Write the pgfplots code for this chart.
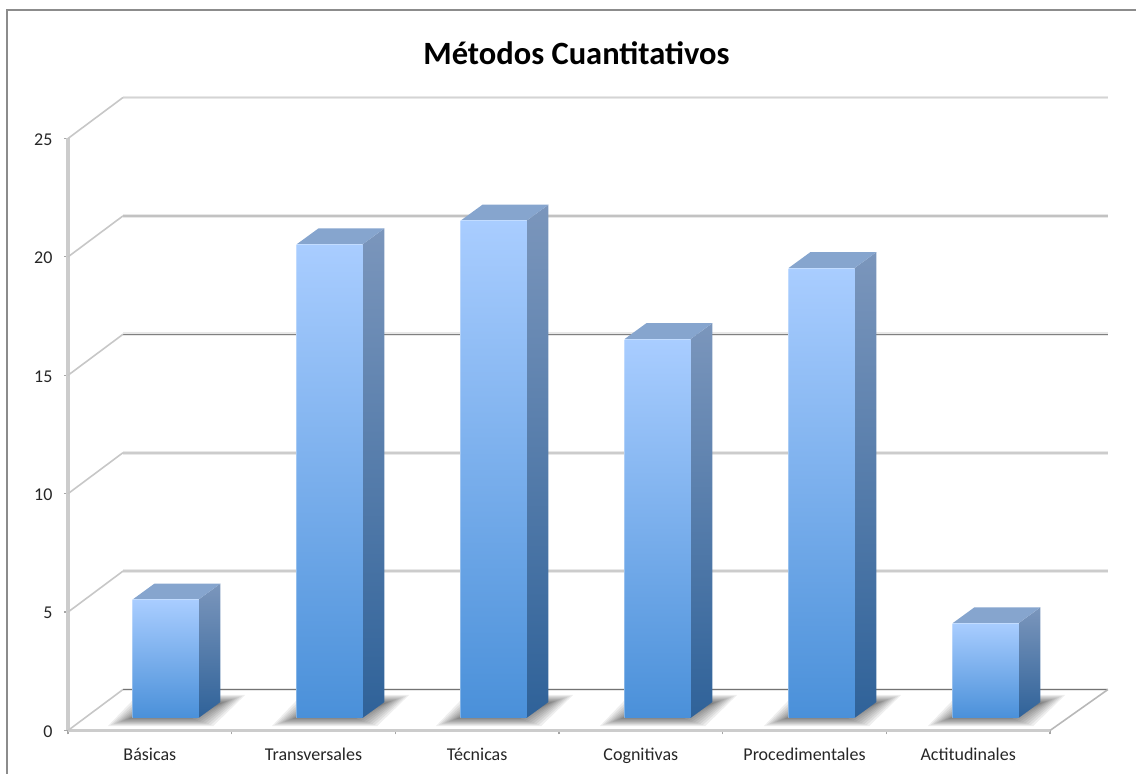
\documentclass[border=0pt]{standalone}
\usepackage{pgfplots}
\pgfplotsset{compat=1.18}
\usepackage{fontspec}
\setmainfont{Carlito}
\definecolor{frontTop}{HTML}{A9CDFF}
\definecolor{frontBot}{HTML}{4A90D9}
\definecolor{sideTop}{HTML}{7B96BC}
\definecolor{sideBot}{HTML}{2F6299}
\definecolor{capFace}{HTML}{86A5CE}

% Depth of a bar, in category and value units
\newcommand{\depthx}{0.134}
\newcommand{\depthy}{0.676}

% One layer of the soft floor shadow; #2 grows or shrinks it, in picture points
\newcommand{\shadowlayer}[2]{%
  \pgfmathsetmacro{\xa}{#1+(-46-#2*1.3)/164}
  \pgfmathsetmacro{\xb}{#1+(-16-#2*1.3)/164}
  \pgfmathsetmacro{\xc}{#1+(68+#2*1.3)/164}
  \pgfmathsetmacro{\xd}{#1+(36+#2*1.3)/164}
  \pgfmathsetmacro{\ya}{(-4-#2*0.45)/23.68}
  \pgfmathsetmacro{\yb}{(19+#2*0.45)/23.68}
  \addplot[fill=black,fill opacity=0.068,draw=none]
    coordinates {(\xa,\ya) (\xb,\yb) (\xc,\yb) (\xd,\ya)} --cycle;
}

% One bar: category position #1, value #2
\newcommand{\prismbar}[2]{%
  \shadowlayer{#1}{9}\shadowlayer{#1}{7}\shadowlayer{#1}{5}\shadowlayer{#1}{3}%
  \shadowlayer{#1}{1}\shadowlayer{#1}{-1}\shadowlayer{#1}{-3}\shadowlayer{#1}{-5}%
  \shadowlayer{#1}{-7}\shadowlayer{#1}{-9}\shadowlayer{#1}{-11}\shadowlayer{#1}{-13}%
  \pgfmathsetmacro{\xl}{#1-33/164}
  \pgfmathsetmacro{\xr}{#1+33/164}
  \pgfmathsetmacro{\xlb}{\xl+\depthx}
  \pgfmathsetmacro{\xrb}{\xr+\depthx}
  \pgfmathsetmacro{\yb}{\depthy}
  \pgfmathsetmacro{\yt}{#2+\depthy}
  \addplot[draw=none,top color=sideTop,bottom color=sideBot]
    coordinates {(\xr,0) (\xrb,\yb) (\xrb,\yt) (\xr,#2)} --cycle;
  \addplot[draw=none,fill=capFace]
    coordinates {(\xl,#2) (\xlb,\yt) (\xrb,\yt) (\xr,#2)} --cycle;
  \addplot[ybar,bar width=66pt,bar shift=0pt,draw=none,
           top color=frontTop,bottom color=frontBot]
    coordinates {(#1,#2)};
  \addplot[draw=white,draw opacity=0.3,line width=0.8pt]
    coordinates {(\xl,0) (\xl,#2) (\xr,#2)};
}

% One wall line: value #1, colour #2 of its core
\newcommand{\wallline}[2]{%
  \pgfmathsetmacro{\yback}{#1+1.731}
  \addplot[draw=black!9,line width=3.8pt] coordinates {(-0.164,\yback) (5.854,\yback)};
  \addplot[draw=#2,line width=1.6pt] coordinates {(-0.164,\yback) (5.854,\yback)};
  \addplot[draw=black!22,line width=1.6pt] coordinates {(-0.5,#1) (-0.164,\yback)};
}

\begin{document}
\begin{tikzpicture}
\draw[black!45,line width=1.2pt] (7pt,0pt) -- (7pt,764pt) -- (1136pt,764pt);

% Walls, floor and scales
\begin{axis}[
  at={(68pt,43.5pt)},anchor=south west,
  scale only axis,width=982pt,height=592pt,
  xmin=-0.5,xmax=5.5,ymin=0,ymax=25,
  clip=false,
  axis lines*=left,
  axis line style={-,draw=black!20,line width=3.6pt},
  tick align=outside,
  tick style={draw=black!35,line width=1.2pt},
  major tick length=4pt,
  xtick={-0.5,0.5,1.5,2.5,3.5,4.5,5.5},
  xticklabels={},
  extra x ticks={0,1,2,3,4,5},
  extra x tick labels={Básicas,Transversales,Técnicas,Cognitivas,Procedimentales,Actitudinales},
  extra x tick style={major tick length=0pt,
    xticklabel style={font=\fontsize{18}{20}\selectfont,text=black!85,
      text height=12pt,text depth=4pt,yshift=-14.5pt}},
  ytick={0,5,10,15,20,25},
  yticklabel style={font=\fontsize{18}{20}\selectfont,text=black!85,xshift=-8pt,yshift=-1pt},
  /pgf/number format/assume math mode=true,
  title={\textbf{Métodos Cuantitativos}},
  title style={at={(axis description cs:0.5178,1)},anchor=center,yshift=79pt,
    font=\fontsize{32.5}{36}\selectfont},
]
\wallline{25}{black!17}
\wallline{20}{black!24}
\wallline{15}{black!50}
\wallline{10}{black!20}
\wallline{5}{black!20}
\wallline{0}{black!55}
\addplot[draw=black!28,line width=1.6pt] coordinates {(5.5,0) (5.854,1.731)};
\end{axis}

% Bars, standing on their plane inside the floor
\begin{axis}[
  at={(83.5pt,56pt)},anchor=south west,
  scale only axis,width=984pt,height=592pt,
  xmin=-0.5,xmax=5.5,ymin=0,ymax=25,
  clip=false,hide axis,
]
\prismbar{0}{5}
\prismbar{1}{20}
\prismbar{2}{21}
\prismbar{3}{16}
\prismbar{4}{19}
\prismbar{5}{4}
\end{axis}

\pgfresetboundingbox
\path[use as bounding box] (0pt,0pt) rectangle (1136pt,774pt);
\end{tikzpicture}
\end{document}
